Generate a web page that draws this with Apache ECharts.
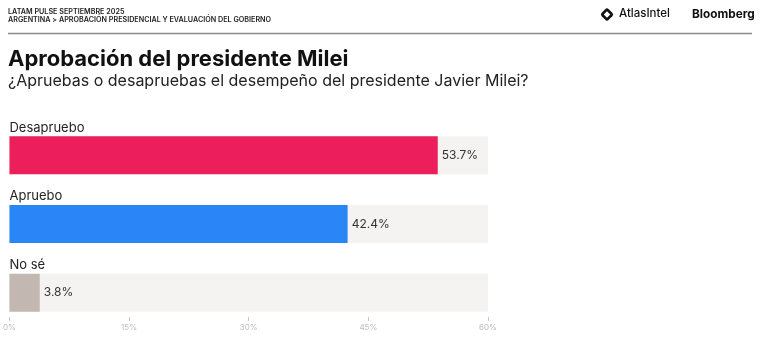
<!DOCTYPE html>
<html>
<head>
<meta charset="utf-8">
<script src="https://cdn.jsdelivr.net/npm/echarts@6/dist/echarts.min.js"></script>
<style>
html,body{margin:0;padding:0;background:#fff;}
#chart{width:760px;height:357px;}
</style>
</head>
<body>
<div id="chart"></div>
<script>
const categories = ['Desapruebo', 'Apruebo', 'No sé'];
const values = [53.7, 42.4, 3.8];
const barColors = ['#EC1E5B', '#2A86F7', '#C3B8B1'];
const axisMax = 60;
const tickInterval = 15;

const FONT = 'Inter, "Noto Sans", sans-serif';
const chart = echarts.init(document.getElementById('chart'), null, {renderer: 'canvas'});

chart.setOption({
  animation: false,
  backgroundColor: '#ffffff',
  textStyle: {fontFamily: FONT},
  grid: {left: 8, right: 272, top: 121, bottom: 30, containLabel: false},
  xAxis: {
    type: 'value', min: 0, max: axisMax, interval: tickInterval,
    offset: -10,
    axisLine: {show: false},
    axisTick: {show: true, length: 4, lineStyle: {color: '#c8c8c8', width: 1}},
    splitLine: {show: false},
    axisLabel: {formatter: '{value}%', color: '#bdbdbd', fontSize: 8, margin: 7, fontFamily: FONT}
  },
  yAxis: {
    type: 'category', data: categories, inverse: true,
    axisLine: {show: false}, axisTick: {show: false}, axisLabel: {show: false}
  },
  series: [
    {
      type: 'bar',
      data: categories.map(() => axisMax),
      barWidth: 38,
      barGap: '-100%',
      silent: true,
      itemStyle: {color: '#F4F3F1'},
      label: {
        show: true, position: [0, -2], align: 'left', verticalAlign: 'bottom',
        formatter: p => p.name, color: '#222', fontSize: 13, fontFamily: FONT
      },
      z: 1
    },
    {
      type: 'bar',
      data: values.map((v, i) => ({value: v, itemStyle: {color: barColors[i]}})),
      barWidth: 38,
      barGap: '-100%',
      label: {
        show: true, position: 'right', distance: 4,
        formatter: p => p.value.toFixed(1) + '%', color: '#333', fontSize: 12, fontFamily: FONT
      },
      z: 2
    }
  ],
  graphic: [
    {type: 'text', x: 8, y: 8, style: {text: 'LATAM PULSE SEPTIEMBRE 2025', font: '600 7.2px ' + FONT, fill: '#222'}},
    {type: 'text', x: 8, y: 16, style: {text: 'ARGENTINA > APROBACIÓN PRESIDENCIAL Y EVALUACIÓN DEL GOBIERNO', font: '600 7.2px ' + FONT, fill: '#222'}},
    {type: 'line', shape: {x1: 8, y1: 33.5, x2: 752, y2: 33.5}, style: {stroke: '#8a8a8a', lineWidth: 1.5}},
    {type: 'text', x: 8, y: 48, style: {text: 'Aprobación del presidente Milei', font: 'bold 22px ' + FONT, fill: '#111'}},
    {type: 'text', x: 8, y: 73, style: {text: '¿Apruebas o desapruebas el desempeño del presidente Javier Milei?', font: '16px ' + FONT, fill: '#222'}},
    {type: 'group', x: 607, y: 14.5, rotation: Math.PI / 4, children: [
      {type: 'rect', shape: {x: -5, y: -5, width: 10, height: 10, r: 2.5}, style: {fill: '#111'}},
      {type: 'rect', shape: {x: -2.3, y: -2.3, width: 4.6, height: 4.6}, style: {fill: '#fff'}}
    ]},
    {type: 'text', x: 619, y: 8, style: {text: 'AtlasIntel', font: '500 11.5px ' + FONT, fill: '#111'}},
    {type: 'text', x: 692, y: 8, style: {text: 'Bloomberg', font: 'bold 11.8px ' + FONT, fill: '#111'}}
  ]
});
</script>
</body>
</html>
